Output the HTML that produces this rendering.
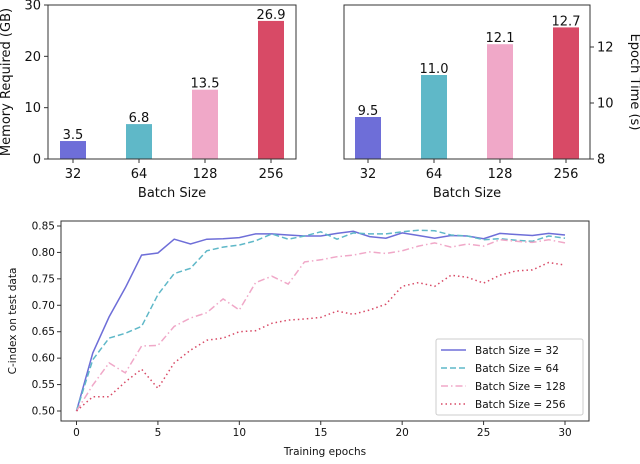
<!DOCTYPE html>
<html><head><meta charset="utf-8"><style>
body{margin:0;background:#fff;}
svg{font-family:"DejaVu Sans","Liberation Sans",sans-serif;}
</style></head><body>
<svg width="640" height="459" viewBox="0 0 640 459">
<g id="topcharts"></g>
<g id="bottomchart"></g>
</svg>
<script>
const batchLabels = ["32","64","128","256"];
const memoryValues = [3.5, 6.8, 13.5, 26.9];
const memoryLabels = ["3.5","6.8","13.5","26.9"];
const timeValues = [9.5, 11.0, 12.1, 12.7];
const timeLabels = ["9.5","11.0","12.1","12.7"];
const memTicks = [0,10,20,30];
const timeTicks = [8,10,12];
const colors = ["#6e6ed8","#5fb8c8","#f0a8c8","#d84a66"];

const epochs = [];
for (let i=0;i<=30;i++) epochs.push(i);
const s32 = [0.50,0.61,0.678,0.733,0.795,0.799,0.825,0.816,0.825,0.826,0.828,0.835,0.835,0.833,0.831,0.831,0.836,0.840,0.830,0.827,0.837,0.832,0.827,0.832,0.831,0.826,0.836,0.834,0.832,0.836,0.833];
const s64 = [0.50,0.597,0.638,0.647,0.66,0.72,0.76,0.77,0.803,0.81,0.814,0.822,0.835,0.825,0.831,0.839,0.825,0.837,0.835,0.835,0.839,0.842,0.841,0.833,0.831,0.824,0.826,0.823,0.821,0.831,0.827];
const s128 = [0.50,0.549,0.591,0.572,0.623,0.624,0.66,0.676,0.686,0.712,0.691,0.743,0.755,0.74,0.782,0.786,0.792,0.795,0.801,0.798,0.803,0.812,0.818,0.81,0.816,0.812,0.824,0.821,0.819,0.824,0.818];
const s256 = [0.50,0.527,0.527,0.555,0.579,0.543,0.591,0.615,0.634,0.638,0.65,0.652,0.666,0.672,0.674,0.677,0.689,0.683,0.691,0.702,0.736,0.743,0.736,0.757,0.753,0.742,0.757,0.765,0.767,0.781,0.776];
const xTicks = [0,5,10,15,20,25,30];
const yTicks = [0.50,0.55,0.60,0.65,0.70,0.75,0.80,0.85];
const seriesNames = ["Batch Size = 32","Batch Size = 64","Batch Size = 128","Batch Size = 256"];

const NS="http://www.w3.org/2000/svg";
function mk(parent, tag, attrs, text){
  const e=document.createElementNS(NS,tag);
  for(const k in attrs) e.setAttribute(k,attrs[k]);
  if(text!==undefined) e.textContent=text;
  parent.appendChild(e); return e;
}
const topG=document.getElementById('topcharts');
const botG=document.getElementById('bottomchart');

function barChart(x0,x1,y0,y1,vmin,vmax,vals,labs,ticks,right,name,title,pad){
  const g=mk(topG,'g',{});
  
  
  const sy=v=>y1-(v-vmin)/(vmax-vmin)*(y1-y0);
  const step=66; const bw=26;
  vals.forEach((v,i)=>{
    const cx=x0+pad+step*i;
    const r=mk(g,'rect',{x:cx-bw/2,y:sy(v),width:bw,height:y1-sy(v),fill:colors[i]});
    
    
    const t=mk(g,'text',{x:cx,y:sy(v)-2,'text-anchor':'middle','font-size':13,fill:'#111'},labs[i]);
    
    
    mk(g,'line',{x1:cx,x2:cx,y1:y1,y2:y1+4,stroke:'#333'});
    const xl=mk(g,'text',{x:cx,y:y1+19,'text-anchor':'middle','font-size':13,fill:'#111'},batchLabels[i]);
    
    
  });
  ticks.forEach(tv=>{
    const y=sy(tv);
    if(right){
      mk(g,'line',{x1:x1,x2:x1+4,y1:y,y2:y,stroke:'#333'});
      const tl=mk(g,'text',{x:x1+7,y:y+4.5,'font-size':13,fill:'#111'},String(tv));
      
      
    } else {
      mk(g,'line',{x1:x0-4,x2:x0,y1:y,y2:y,stroke:'#333'});
      const tl=mk(g,'text',{x:x0-7,y:y+4.5,'text-anchor':'end','font-size':13,fill:'#111'},String(tv));
      
      
    }
  });
  mk(g,'rect',{x:x0,y:y0,width:x1-x0,height:y1-y0,fill:'none',stroke:'#333','stroke-width':1});
  const xt=mk(g,'text',{x:(x0+x1)/2,y:197,'text-anchor':'middle','font-size':13,fill:'#111'},'Batch Size');
  
  
  const yx = right ? 631 : 10;
  const yt=mk(g,'text',{x:yx,y:(y0+y1)/2,'text-anchor':'middle','font-size':13,fill:'#111',transform:`rotate(${right?90:-90} ${yx} ${(y0+y1)/2})`},title);
  
  
}
barChart(48,296,5,159,0,30,memoryValues,memoryLabels,memTicks,false,'memory-chart','Memory Required (GB)',25);
barChart(344,590,5,159,8,13.5,timeValues,timeLabels,timeTicks,true,'epoch-time-chart','Epoch Time (s)',24);

const X0=61,X1=589,Y0=221,Y1=421;
const sxL=e=>76.5+e*(565-76.5)/30;
const syL=v=>411-(v-0.5)/0.35*185;
xTicks.forEach(t=>{
  mk(botG,'line',{x1:sxL(t),x2:sxL(t),y1:Y1,y2:Y1+4,stroke:'#333'});
  const l=mk(botG,'text',{x:sxL(t),y:Y1+15,'text-anchor':'middle','font-size':10.5,fill:'#111'},String(t));
  
  
});
yTicks.forEach(t=>{
  mk(botG,'line',{x1:X0-4,x2:X0,y1:syL(t),y2:syL(t),stroke:'#333'});
  const l=mk(botG,'text',{x:X0-6,y:syL(t)+3.5,'text-anchor':'end','font-size':10.5,fill:'#111'},t.toFixed(2));
  
  
});
const dashes=["none","6 3","7 3 1.5 3","1.5 3"];
[s32,s64,s128,s256].forEach((s,i)=>{
  const d=s.map((v,j)=>(j?'L':'M')+sxL(epochs[j]).toFixed(1)+','+syL(v).toFixed(1)).join(' ');
  const p=mk(botG,'path',{d:d,fill:'none',stroke:colors[i],'stroke-width':1.5,'stroke-dasharray':dashes[i]});
  
  
});
mk(botG,'rect',{x:X0,y:Y0,width:X1-X0,height:Y1-Y0,fill:'none',stroke:'#333','stroke-width':1});
const xtB=mk(botG,'text',{x:(X0+X1)/2,y:455,'text-anchor':'middle','font-size':10.5,fill:'#111'},'Training epochs');


const ytB=mk(botG,'text',{x:16,y:321,'text-anchor':'middle','font-size':10.5,fill:'#111',transform:'rotate(-90 16 321)'},'C-index on test data');


const lg=mk(botG,'g',{});


mk(lg,'rect',{x:436,y:339,width:147,height:76,rx:2,fill:'#fff',stroke:'#ccc'});
seriesNames.forEach((n,i)=>{
  const y=350+i*18;
  mk(lg,'line',{x1:441,x2:466,y1:y,y2:y,stroke:colors[i],'stroke-width':1.5,'stroke-dasharray':dashes[i]});
  const t=mk(lg,'text',{x:475,y:y+4,'font-size':10.5,fill:'#111'},n);
  
  
});
</script>
</body></html>
